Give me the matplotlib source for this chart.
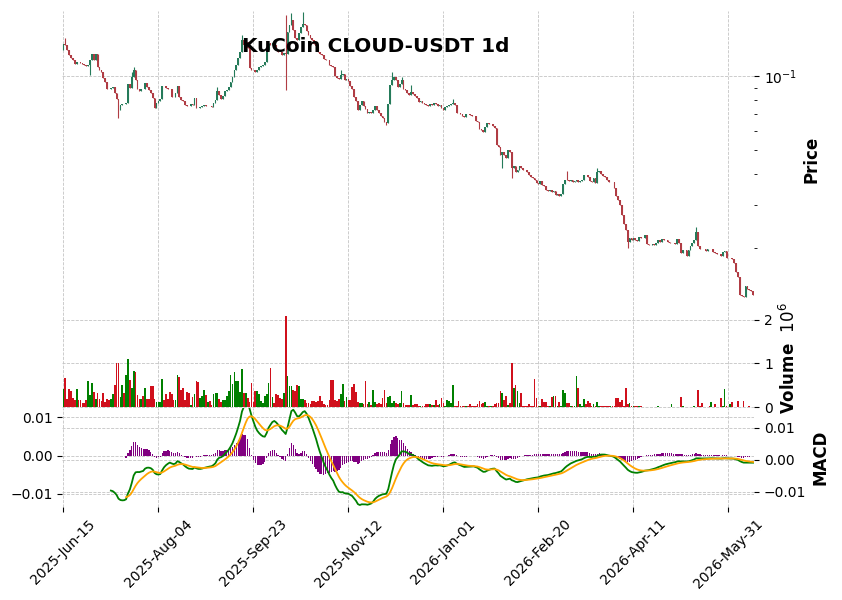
import numpy as np
import pandas as pd
import matplotlib
matplotlib.use("Agg")
import matplotlib.pyplot as plt
from matplotlib.ticker import NullFormatter

title = "KuCoin CLOUD-USDT 1d"
start_date = "2025-06-15"
first_open = 0.1279

# daily closes (open of each day = previous close)
close = [
    0.1353, 0.1340, 0.1279, 0.1221, 0.1187, 0.1165, 0.1122, 0.1143, 0.1140, 0.1133,
    0.1122, 0.1112, 0.1101, 0.1110, 0.1165, 0.1232, 0.1165, 0.1232, 0.1091, 0.1061,
    0.1042, 0.0985, 0.0948, 0.0888, 0.0885, 0.0897, 0.0905, 0.0856, 0.0809, 0.0729,
    0.0764, 0.0771, 0.0768, 0.0778, 0.0930, 0.0897, 0.0993, 0.1061, 0.0966, 0.0888,
    0.0872, 0.0888, 0.0884, 0.0940, 0.0905, 0.0880, 0.0856, 0.0816, 0.0743, 0.0778,
    0.0794, 0.0809, 0.0914, 0.0911, 0.0897, 0.0888, 0.0886, 0.0824, 0.0822, 0.0856,
    0.0914, 0.0824, 0.0801, 0.0794, 0.0764, 0.0757, 0.0755, 0.0771, 0.0764, 0.0816,
    0.0743, 0.0741, 0.0750, 0.0757, 0.0764, 0.0757, 0.0759, 0.0756, 0.0750, 0.0778,
    0.0801, 0.0872, 0.0839, 0.0809, 0.0831, 0.0872, 0.0880, 0.0905, 0.0948, 0.0993,
    0.1061, 0.1112, 0.1187, 0.1256, 0.1405, 0.1340, 0.1379, 0.1303, 0.1081, 0.1061,
    0.1058, 0.1042, 0.1061, 0.1091, 0.1101, 0.1112, 0.1143, 0.1279, 0.1365, 0.1340,
    0.1365, 0.1340, 0.1279, 0.1256, 0.1252, 0.1221, 0.1244, 0.1230, 0.1514, 0.1616,
    0.1694, 0.1542, 0.1432, 0.1405, 0.1500, 0.1587, 0.1631, 0.1616, 0.1528, 0.1472,
    0.1432, 0.1405, 0.1353, 0.1328, 0.1256, 0.1232, 0.1221, 0.1176, 0.1165, 0.1162,
    0.1112, 0.1101, 0.1091, 0.1003, 0.0985, 0.0975, 0.1012, 0.1022, 0.0966, 0.0975,
    0.0957, 0.0914, 0.0888, 0.0824, 0.0794, 0.0729, 0.0764, 0.0794, 0.0757, 0.0736,
    0.0709, 0.0716, 0.0709, 0.0729, 0.0757, 0.0729, 0.0709, 0.0690, 0.0677, 0.0652,
    0.0646, 0.0771, 0.0922, 0.0966, 0.0993, 0.0966, 0.0905, 0.0930, 0.0966, 0.0888,
    0.0880, 0.0856, 0.0839, 0.0864, 0.0847, 0.0831, 0.0816, 0.0786, 0.0794, 0.0778,
    0.0771, 0.0764, 0.0757, 0.0771, 0.0764, 0.0778, 0.0771, 0.0757, 0.0764, 0.0743,
    0.0729, 0.0750, 0.0757, 0.0764, 0.0771, 0.0778, 0.0764, 0.0709, 0.0707, 0.0703,
    0.0690, 0.0684, 0.0703, 0.0702, 0.0696, 0.0690, 0.0689, 0.0658, 0.0652, 0.0611,
    0.0605, 0.0594, 0.0622, 0.0646, 0.0640, 0.0641, 0.0628, 0.0617, 0.0526, 0.0516,
    0.0479, 0.0493, 0.0479, 0.0466, 0.0502, 0.0493, 0.0424, 0.0432, 0.0408, 0.0416,
    0.0432, 0.0424, 0.0416, 0.0415, 0.0408, 0.0397, 0.0390, 0.0386, 0.0379, 0.0369,
    0.0365, 0.0376, 0.0362, 0.0359, 0.0345, 0.0342, 0.0345, 0.0339, 0.0342, 0.0329,
    0.0332, 0.0326, 0.0332, 0.0365, 0.0379, 0.0378, 0.0376, 0.0379, 0.0372, 0.0376,
    0.0379, 0.0372, 0.0376, 0.0379, 0.0397, 0.0396, 0.0390, 0.0376, 0.0372, 0.0386,
    0.0369, 0.0408, 0.0412, 0.0401, 0.0393, 0.0390, 0.0379, 0.0372, 0.0373, 0.0371,
    0.0352, 0.0326, 0.0314, 0.0300, 0.0273, 0.0251, 0.0237, 0.0212, 0.0220, 0.0216,
    0.0220, 0.0216, 0.0214, 0.0222, 0.0220, 0.0221, 0.0226, 0.0208, 0.0206, 0.0207,
    0.0208, 0.0207, 0.0210, 0.0216, 0.0212, 0.0218, 0.0217, 0.0216, 0.0212, 0.0210,
    0.0211, 0.0210, 0.0209, 0.0218, 0.0210, 0.0191, 0.0197, 0.0196, 0.0186, 0.0197,
    0.0204, 0.0210, 0.0216, 0.0233, 0.0204, 0.0199, 0.0198, 0.0199, 0.0195, 0.0199,
    0.0198, 0.0199, 0.0193, 0.0191, 0.0190, 0.0189, 0.0186, 0.0193, 0.0195, 0.0183,
    0.0182, 0.0183, 0.0181, 0.0174, 0.0160, 0.0153, 0.0129, 0.0128, 0.0127, 0.0141,
    0.0136, 0.0135, 0.0134, 0.0129,
]

# volume in millions
volume_m = [
    0.43, 0.66, 0.19, 0.41, 0.37, 0.22, 0.17, 0.41, 0.17, 0.17,
    0.11, 0.09, 0.17, 0.60, 0.28, 0.55, 0.35, 0.20, 0.32, 0.19,
    0.14, 0.32, 0.13, 0.20, 0.17, 0.19, 0.30, 0.52, 1.02, 1.02,
    0.23, 0.51, 0.32, 0.73, 1.10, 0.62, 0.45, 0.83, 0.81, 0.28,
    0.19, 0.19, 0.26, 0.44, 0.20, 0.20, 0.48, 0.48, 0.19, 0.13,
    0.13, 0.13, 0.64, 0.17, 0.30, 0.20, 0.35, 0.30, 0.17, 0.17,
    0.73, 0.69, 0.39, 0.44, 0.17, 0.35, 0.32, 0.05, 0.23, 0.30,
    0.60, 0.58, 0.21, 0.26, 0.39, 0.28, 0.12, 0.14, 0.05, 0.30,
    0.33, 0.33, 0.19, 0.12, 0.17, 0.17, 0.26, 0.37, 0.73, 0.53,
    0.80, 0.60, 0.60, 0.35, 0.87, 0.32, 0.32, 0.21, 0.12, 0.55,
    0.12, 0.37, 0.37, 0.30, 0.14, 0.09, 0.26, 0.30, 0.55, 0.89,
    0.23, 0.10, 0.30, 0.28, 0.21, 0.19, 0.33, 2.08, 0.71, 0.48,
    0.48, 0.39, 0.37, 0.51, 0.48, 0.19, 0.19, 0.17, 0.10, 0.10,
    0.08, 0.14, 0.14, 0.12, 0.14, 0.26, 0.14, 0.08, 0.05, 0.05,
    0.17, 0.62, 0.62, 0.17, 0.14, 0.19, 0.30, 0.53, 0.14, 0.23,
    0.17, 0.17, 0.46, 0.53, 0.35, 0.12, 0.10, 0.10, 0.08, 0.60,
    0.08, 0.12, 0.05, 0.39, 0.12, 0.08, 0.10, 0.08, 0.21, 0.39,
    0.10, 0.23, 0.26, 0.10, 0.14, 0.10, 0.08, 0.10, 0.37, 0.09,
    0.05, 0.05, 0.05, 0.28, 0.05, 0.08, 0.08, 0.04, 0.04, 0.04,
    0.04, 0.08, 0.07, 0.08, 0.05, 0.05, 0.17, 0.05, 0.08, 0.21,
    0.10, 0.04, 0.17, 0.14, 0.10, 0.51, 0.04, 0.04, 0.14, 0.04,
    0.04, 0.04, 0.04, 0.04, 0.08, 0.04, 0.04, 0.04, 0.08, 0.14,
    0.08, 0.10, 0.12, 0.04, 0.04, 0.04, 0.04, 0.08, 0.09, 0.09,
    0.37, 0.33, 0.17, 0.26, 0.05, 0.10, 1.00, 0.44, 0.51, 0.37,
    0.09, 0.33, 0.04, 0.04, 0.04, 0.08, 0.04, 0.04, 0.64, 0.21,
    0.04, 0.04, 0.19, 0.12, 0.12, 0.04, 0.04, 0.23, 0.26, 0.26,
    0.04, 0.12, 0.04, 0.39, 0.32, 0.10, 0.10, 0.04, 0.04, 0.04,
    0.71, 0.45, 0.08, 0.04, 0.19, 0.08, 0.14, 0.10, 0.04, 0.08,
    0.04, 0.12, 0.04, 0.03, 0.03, 0.03, 0.03, 0.03, 0.03, 0.03,
    0.04, 0.21, 0.21, 0.12, 0.17, 0.04, 0.44, 0.08, 0.10, 0.04,
    0.04, 0.03, 0.04, 0.03, 0.03, 0.02, 0.02, 0.02, 0.02, 0.02,
    0.02, 0.02, 0.02, 0.04, 0.02, 0.02, 0.02, 0.02, 0.02, 0.02,
    0.08, 0.02, 0.02, 0.02, 0.02, 0.23, 0.04, 0.02, 0.02, 0.02,
    0.02, 0.02, 0.04, 0.02, 0.39, 0.04, 0.10, 0.02, 0.02, 0.02,
    0.04, 0.12, 0.02, 0.08, 0.02, 0.02, 0.21, 0.04, 0.42, 0.04,
    0.02, 0.08, 0.12, 0.02, 0.02, 0.14, 0.02, 0.02, 0.14, 0.02,
    0.02, 0.04, 0.02, 0.02,
]

# wick extremes that reach beyond the candle body (day index -> price)
wick_high = {1: 0.1432, 36: 0.1042, 37: 0.1091, 81: 0.0905, 94: 0.1472,
             117: 0.1775, 120: 0.1810, 126: 0.1827, 146: 0.1061, 173: 0.1042,
             178: 0.0993, 183: 0.0922, 205: 0.0809, 265: 0.0412, 281: 0.0425,
             333: 0.0244}
wick_low = {14: 0.1012, 29: 0.0677, 117: 0.0880, 170: 0.0634, 231: 0.0425,
            236: 0.0386, 297: 0.0200}

n = len(close)
x = np.arange(n)
close = np.array(close)
opn = np.concatenate([[first_open], close[:-1]])
high = np.maximum(opn, close)
low = np.minimum(opn, close)
for i, v in wick_high.items():
    high[i] = max(high[i], v)
for i, v in wick_low.items():
    low[i] = min(low[i], v)
up = close >= opn

# MACD (12, 26, 9)
s = pd.Series(close)
ema12 = s.ewm(span=12, adjust=False, min_periods=12).mean()
ema26 = s.ewm(span=26, adjust=False, min_periods=26).mean()
macd = ema12 - ema26
signal = macd.ewm(span=9, adjust=False, min_periods=9).mean()
hist = macd - signal

dates = pd.date_range(start_date, periods=n, freq="D")

fig = plt.figure(figsize=(8.42, 6.0), dpi=100)
left, width = 0.0739, 0.8219
ax_p = fig.add_axes([left, 0.4857, width, 0.4960])
ax_v = fig.add_axes([left, 0.3203, width, 0.1653], sharex=ax_p)
ax_m = fig.add_axes([left, 0.1547, width, 0.1657], sharex=ax_p)
ax_h = ax_m.twinx()

grid_kw = dict(linestyle="--", color="#c4c4c4", linewidth=0.6)

# candles
cols = np.where(up, "#257b5a", "#b03c44")
ax_p.vlines(x, low, high, colors=cols, linewidth=0.8)
ax_p.bar(x, np.abs(close - opn), bottom=np.minimum(opn, close), width=0.9,
         color=cols, linewidth=0)
ax_p.set_yscale("log")
ax_p.set_ylim(0.01137, 0.1843)
ax_p.yaxis.set_minor_formatter(NullFormatter())

# volume
vcols = np.where(up, "#008000", "#d0101c")
ax_v.bar(x, volume_m, width=0.9, color=vcols, linewidth=0)
ax_v.set_ylim(-0.01, 2.25)
ax_v.set_yticks([0, 1, 2])

# MACD panel
ax_m.bar(x, hist, width=0.7, color="purple", linewidth=0)
ax_m.plot(x, macd, color="green", linewidth=1.3)
ax_m.plot(x, signal, color="orange", linewidth=1.3)
ax_m.set_zorder(ax_h.get_zorder() + 1)
ax_m.patch.set_visible(False)
ax_m.set_ylim(-0.0135, 0.0125)
ax_h.set_ylim(-0.0148, 0.0163)
ax_m.set_yticks([-0.01, 0.0, 0.01])
ax_h.set_yticks([-0.01, 0.0, 0.01])
ax_m.set_yticklabels(["\u22120.01", "0.00", "0.01"])
ax_h.set_yticklabels(["\u22120.01", "0.00", "0.01"])

ax_m.set_xlim(-0.6, n - 0.4)
ticks = list(range(0, n, 50))
ax_m.set_xticks(ticks)
ax_m.set_xticklabels([dates[i].strftime("%Y-%b-%d") for i in ticks], rotation=45)

for ax in (ax_p, ax_v):
    ax.yaxis.tick_right()
    ax.yaxis.set_label_position("right")
    ax.tick_params(axis="x", bottom=False, labelbottom=False)

for ax in (ax_p, ax_v, ax_m):
    ax.grid(True, which="major", **grid_kw)
    ax.set_axisbelow(True)
ax_h.grid(True, axis="y", **grid_kw)

for ax in (ax_p, ax_v, ax_m, ax_h):
    for sp in ax.spines.values():
        sp.set_visible(False)

ax_p.set_ylabel("Price", fontsize=12, fontweight="bold")
ax_v.set_ylabel("Volume  $10^{6}$", fontsize=12, fontweight="bold")
ax_h.set_ylabel("MACD", fontsize=12, fontweight="bold")

fig.text(375.5 / 842, 1 - 47 / 600, title, ha="center", va="center",
         fontsize=14.4, fontweight="bold")

fig.savefig("out.png", dpi=100)
